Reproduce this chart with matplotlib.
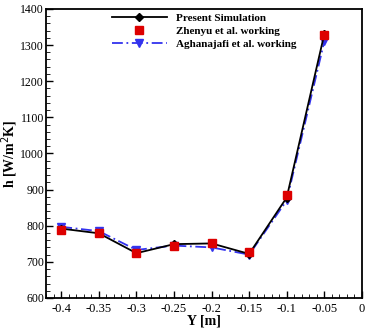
import matplotlib.pyplot as plt
from matplotlib.ticker import MultipleLocator

plt.rcParams['font.family'] = 'Liberation Serif'

y_pos = [-0.4, -0.35, -0.3, -0.25, -0.2, -0.15, -0.1, -0.05]
present = [792, 779, 724, 749, 751, 722, 878, 1330]
zhenyu = [789, 779, 724, 745, 752, 726, 884, 1328]
aghanajafi = [797, 785, 733, 745, 740, 720, 870, 1310]

fig = plt.figure(figsize=(3.67, 3.3), dpi=100)
ax = fig.add_axes([0.126, 0.097, 0.86, 0.876])

ax.plot(y_pos, aghanajafi, color='#3333ee', linestyle=(0, (6, 2, 1, 2)), lw=1.3,
        marker='v', ms=5.5, label='Aghanajafi et al. working')
ax.plot(y_pos, present, 'k-', lw=1.3, marker='D', ms=4.5, label='Present Simulation')
ax.plot(y_pos, zhenyu, 's', color='#dd0000', ms=5.5, label='Zhenyu et al. working')

ax.set_xlim(-0.42, 0)
ax.set_ylim(600, 1400)
ax.set_xticks([-0.4, -0.35, -0.3, -0.25, -0.2, -0.15, -0.1, -0.05, 0])
ax.set_xticklabels(['-0.4', '-0.35', '-0.3', '-0.25', '-0.2', '-0.15', '-0.1', '-0.05', '0'])
ax.xaxis.set_minor_locator(MultipleLocator(0.01))
ax.yaxis.set_major_locator(MultipleLocator(100))
ax.yaxis.set_minor_locator(MultipleLocator(20))
ax.tick_params(which='both', direction='in', labelsize=9)
ax.tick_params(axis='y', pad=1.5, labelsize=8.5)
ax.tick_params(which='major', length=5, width=1)
ax.tick_params(which='minor', length=3)
for s in ax.spines.values():
    s.set_linewidth(1.3)

ax.set_xlabel('Y [m]', fontsize=10, fontweight='bold', labelpad=0)
ax.set_ylabel('h [W/m$^2$K]', fontsize=10, fontweight='bold', labelpad=0)

h, l = ax.get_legend_handles_labels()
ax.legend([h[1], h[2], h[0]], [l[1], l[2], l[0]], loc='upper center',
          bbox_to_anchor=(0.5, 1.02), frameon=False, handlelength=5,
          prop={'weight': 'bold', 'size': 8}, labelspacing=0.3)

fig.savefig('out.png', dpi=100)
